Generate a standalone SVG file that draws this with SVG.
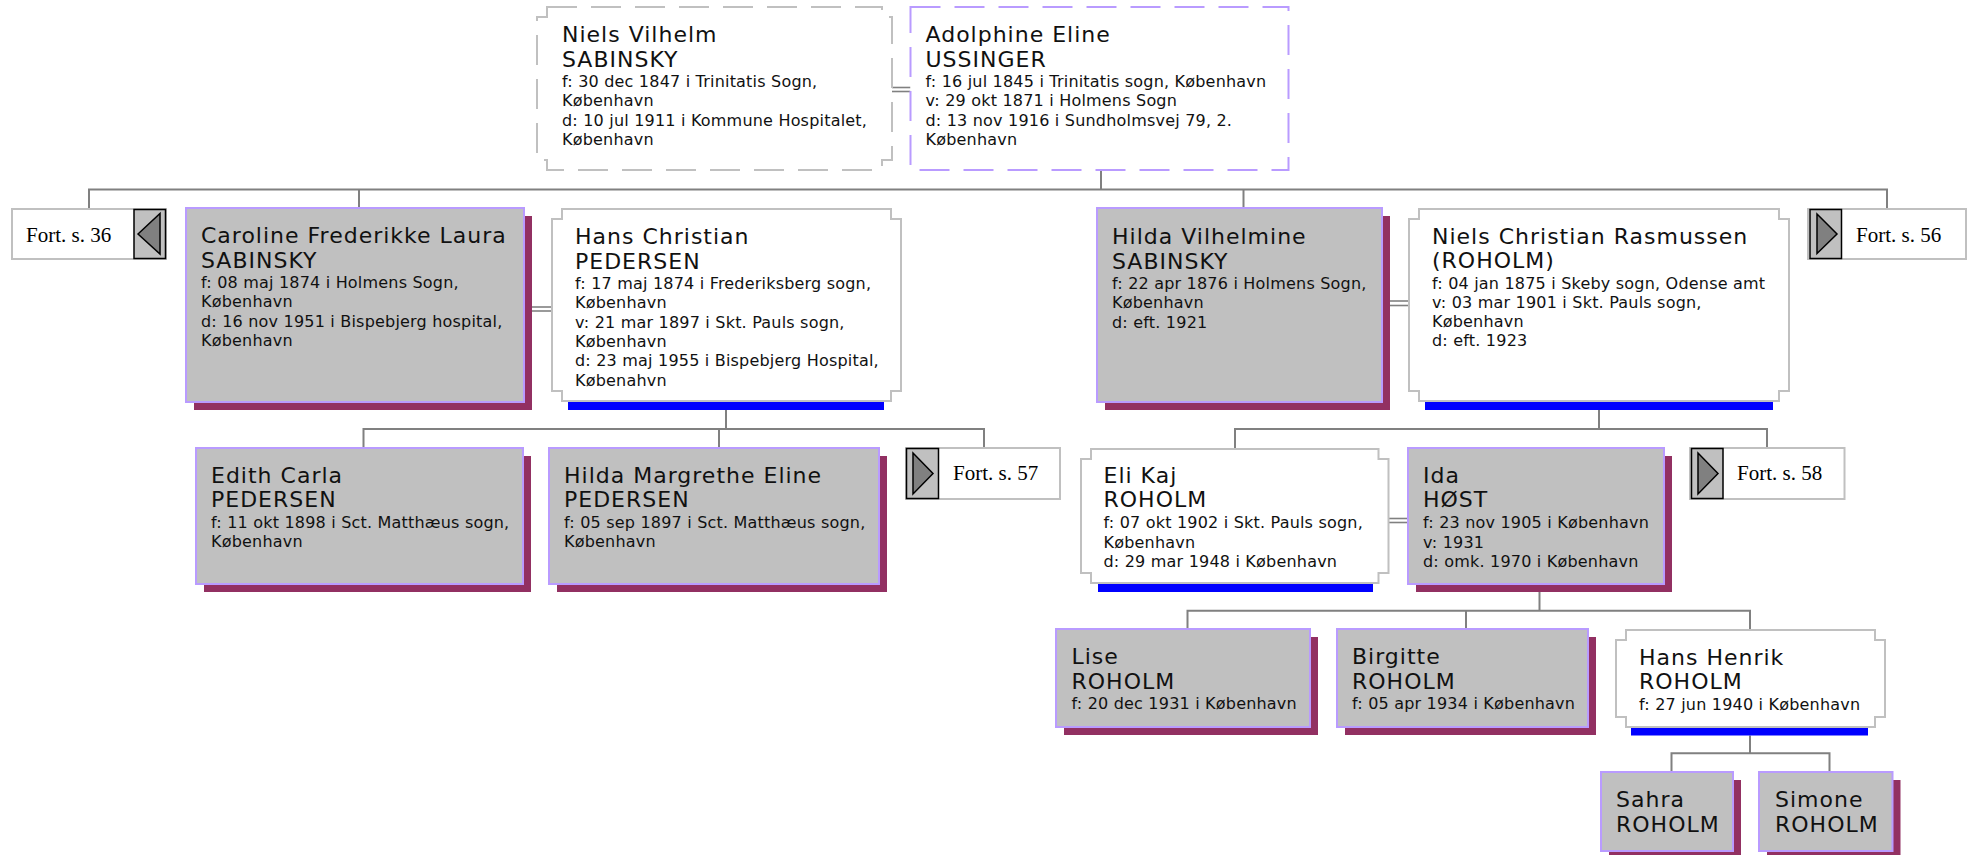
<svg xmlns="http://www.w3.org/2000/svg" width="1972" height="855" viewBox="0 0 1972 855">
<style>
.conn{stroke:#808080;stroke-width:2;fill:none}
.dbl{stroke:#808080;stroke-width:1.6;fill:none}
.fem{fill:#c0c0c0;stroke:#b99bff;stroke-width:2}
.shadow{fill:#923062}
.male{fill:#ffffff;stroke:#c0c0c0;stroke-width:2}
.bar{fill:#0000ff}
.dashm{fill:#ffffff;stroke:#c0c0c0;stroke-width:2;stroke-dasharray:30 14}
.dashf{fill:#ffffff;stroke:#b99bff;stroke-width:2;stroke-dasharray:30 14}
.nm{font-family:"DejaVu Sans","Verdana",sans-serif;font-size:22px;letter-spacing:1px;fill:#111}
.dt{font-family:"DejaVu Sans","Verdana",sans-serif;font-size:16px;letter-spacing:0.2px;fill:#111}
.fort{fill:#ffffff;stroke:#c0c0c0;stroke-width:2}
.sq{fill:#c0c0c0;stroke:#000;stroke-width:1.5}
.tri{fill:#808080;stroke:#000;stroke-width:1.5;stroke-linejoin:miter}
.ft{font-family:"Liberation Serif","Times New Roman",serif;font-size:21px;fill:#000}
</style>

<g id="connectors">
  <!-- top couple -->
  <line class="dbl" x1="892" y1="87.5" x2="910.5" y2="87.5"/>
  <line class="dbl" x1="892" y1="91.5" x2="910.5" y2="91.5"/>
  <polyline class="conn" points="1101,170 1101,189.5"/>
  <polyline class="conn" points="89,209 89,189.5 1887,189.5 1887,209"/>
  <line class="conn" x1="359" y1="189.5" x2="359" y2="208"/>
  <line class="conn" x1="1243.5" y1="189.5" x2="1243.5" y2="208"/>
  <!-- Caroline & Hans -->
  <line class="dbl" x1="532" y1="307" x2="552" y2="307"/>
  <line class="dbl" x1="532" y1="311" x2="552" y2="311"/>
  <polyline class="conn" points="726,410 726,429"/>
  <polyline class="conn" points="363.5,448 363.5,429 984,429 984,448"/>
  <line class="conn" x1="719" y1="429" x2="719" y2="448"/>
  <!-- Hilda & Niels C -->
  <line class="dbl" x1="1390" y1="301" x2="1409" y2="301"/>
  <line class="dbl" x1="1390" y1="305.5" x2="1409" y2="305.5"/>
  <polyline class="conn" points="1599,410 1599,429"/>
  <polyline class="conn" points="1235,449 1235,429 1767,429 1767,448"/>
  <!-- Eli Kaj & Ida -->
  <line class="dbl" x1="1388.5" y1="518.5" x2="1408" y2="518.5"/>
  <line class="dbl" x1="1388.5" y1="522.5" x2="1408" y2="522.5"/>
  <polyline class="conn" points="1539.5,592 1539.5,610.7"/>
  <polyline class="conn" points="1187.5,629 1187.5,610.7 1750,610.7 1750,630"/>
  <line class="conn" x1="1466" y1="610.7" x2="1466" y2="629"/>
  <!-- Hans Henrik -->
  <polyline class="conn" points="1750,735.5 1750,753.3"/>
  <polyline class="conn" points="1671.5,772 1671.5,753.3 1829.5,753.3 1829.5,772"/>
</g>

<g id="n-niels-vilhelm">
  <path class="dashm" d="M547 7 H882 V17 H892 V160 H882 V170 H547 V160 H537 V17 H547 Z"/>
  <text class="nm" x="562" y="42">Niels Vilhelm</text>
  <text class="nm" x="562" y="66.5">SABINSKY</text>
  <text class="dt" x="562" y="87">f: 30 dec 1847 i Trinitatis Sogn,</text>
  <text class="dt" x="562" y="106.3">København</text>
  <text class="dt" x="562" y="125.6">d: 10 jul 1911 i Kommune Hospitalet,</text>
  <text class="dt" x="562" y="144.9">København</text>
</g>

<g id="n-adolphine">
  <rect class="dashf" x="910.5" y="7" width="378" height="163"/>
  <text class="nm" x="925.5" y="42">Adolphine Eline</text>
  <text class="nm" x="925.5" y="66.5">USSINGER</text>
  <text class="dt" x="925.5" y="87">f: 16 jul 1845 i Trinitatis sogn, København</text>
  <text class="dt" x="925.5" y="106.3">v: 29 okt 1871 i Holmens Sogn</text>
  <text class="dt" x="925.5" y="125.6">d: 13 nov 1916 i Sundholmsvej 79, 2.</text>
  <text class="dt" x="925.5" y="144.9">København</text>
</g>

<g id="n-fort36">
  <rect class="fort" x="12" y="209" width="154" height="50"/>
  <rect class="sq" x="134" y="209.5" width="31.5" height="49"/>
  <polygon class="tri" points="138,234 160,213.5 160,254"/>
  <text class="ft" x="26" y="241.7">Fort. s. 36</text>
</g>

<g id="n-caroline">
  <rect class="shadow" x="194" y="216" width="338" height="194"/>
  <rect class="fem" x="186" y="208" width="338" height="194"/>
  <text class="nm" x="201" y="243">Caroline Frederikke Laura</text>
  <text class="nm" x="201" y="267.5">SABINSKY</text>
  <text class="dt" x="201" y="288">f: 08 maj 1874 i Holmens Sogn,</text>
  <text class="dt" x="201" y="307.3">København</text>
  <text class="dt" x="201" y="326.6">d: 16 nov 1951 i Bispebjerg hospital,</text>
  <text class="dt" x="201" y="345.9">København</text>
</g>

<g id="n-hans-christian">
  <rect class="bar" x="568" y="401" width="316" height="9"/>
  <path class="male" d="M562 209 H891 V219 H901 V391 H891 V401 H562 V391 H552 V219 H562 Z"/>
  <text class="nm" x="575" y="244">Hans Christian</text>
  <text class="nm" x="575" y="268.5">PEDERSEN</text>
  <text class="dt" x="575" y="289">f: 17 maj 1874 i Frederiksberg sogn,</text>
  <text class="dt" x="575" y="308.3">København</text>
  <text class="dt" x="575" y="327.6">v: 21 mar 1897 i Skt. Pauls sogn,</text>
  <text class="dt" x="575" y="346.9">København</text>
  <text class="dt" x="575" y="366.2">d: 23 maj 1955 i Bispebjerg Hospital,</text>
  <text class="dt" x="575" y="385.5">Købenahvn</text>
</g>

<g id="n-hilda-vilhelmine">
  <rect class="shadow" x="1105" y="216" width="285" height="194"/>
  <rect class="fem" x="1097" y="208" width="285" height="194"/>
  <text class="nm" x="1112" y="244">Hilda Vilhelmine</text>
  <text class="nm" x="1112" y="268.5">SABINSKY</text>
  <text class="dt" x="1112" y="289">f: 22 apr 1876 i Holmens Sogn,</text>
  <text class="dt" x="1112" y="308.3">København</text>
  <text class="dt" x="1112" y="327.6">d: eft. 1921</text>
</g>

<g id="n-niels-christian">
  <rect class="bar" x="1425" y="401" width="348" height="9"/>
  <path class="male" d="M1419 209 H1779 V219 H1789 V391 H1779 V401 H1419 V391 H1409 V219 H1419 Z"/>
  <text class="nm" x="1432" y="243.5">Niels Christian Rasmussen</text>
  <text class="nm" x="1432" y="268">(ROHOLM)</text>
  <text class="dt" x="1432" y="289">f: 04 jan 1875 i Skeby sogn, Odense amt</text>
  <text class="dt" x="1432" y="308">v: 03 mar 1901 i Skt. Pauls sogn,</text>
  <text class="dt" x="1432" y="327">København</text>
  <text class="dt" x="1432" y="346.3">d: eft. 1923</text>
</g>

<g id="n-fort56">
  <rect class="fort" x="1808" y="209" width="158" height="50"/>
  <rect class="sq" x="1810" y="209.5" width="31.5" height="49"/>
  <polygon class="tri" points="1817,214 1837,234 1817,253.5"/>
  <text class="ft" x="1856" y="241.7">Fort. s. 56</text>
</g>

<g id="n-edith">
  <rect class="shadow" x="204" y="456" width="327" height="136"/>
  <rect class="fem" x="196" y="448" width="327" height="136"/>
  <text class="nm" x="211" y="482.5">Edith Carla</text>
  <text class="nm" x="211" y="507">PEDERSEN</text>
  <text class="dt" x="211" y="528">f: 11 okt 1898 i Sct. Matthæus sogn,</text>
  <text class="dt" x="211" y="547.3">København</text>
</g>

<g id="n-hilda-margrethe">
  <rect class="shadow" x="557" y="456" width="330" height="136"/>
  <rect class="fem" x="549" y="448" width="330" height="136"/>
  <text class="nm" x="564" y="482.5">Hilda Margrethe Eline</text>
  <text class="nm" x="564" y="507">PEDERSEN</text>
  <text class="dt" x="564" y="528">f: 05 sep 1897 i Sct. Matthæus sogn,</text>
  <text class="dt" x="564" y="547.3">København</text>
</g>

<g id="n-fort57">
  <rect class="fort" x="906" y="448" width="154" height="51"/>
  <rect class="sq" x="906.5" y="448.5" width="32" height="50"/>
  <polygon class="tri" points="913,453 933,473.5 913,494"/>
  <text class="ft" x="953" y="480.4">Fort. s. 57</text>
</g>

<g id="n-eli-kaj">
  <rect class="bar" x="1098" y="583" width="275" height="9"/>
  <path class="male" d="M1091 449 H1378.5 V459 H1388.5 V573 H1378.5 V583 H1091 V573 H1081 V459 H1091 Z"/>
  <text class="nm" x="1103.5" y="482.5">Eli Kaj</text>
  <text class="nm" x="1103.5" y="507">ROHOLM</text>
  <text class="dt" x="1103.5" y="528.3">f: 07 okt 1902 i Skt. Pauls sogn,</text>
  <text class="dt" x="1103.5" y="547.6">København</text>
  <text class="dt" x="1103.5" y="566.9">d: 29 mar 1948 i København</text>
</g>

<g id="n-ida">
  <rect class="shadow" x="1416" y="456" width="256" height="136"/>
  <rect class="fem" x="1408" y="448" width="256" height="136"/>
  <text class="nm" x="1423" y="482.5">Ida</text>
  <text class="nm" x="1423" y="507">HØST</text>
  <text class="dt" x="1423" y="528.3">f: 23 nov 1905 i København</text>
  <text class="dt" x="1423" y="547.6">v: 1931</text>
  <text class="dt" x="1423" y="566.9">d: omk. 1970 i København</text>
</g>

<g id="n-fort58">
  <rect class="fort" x="1690" y="448" width="154.5" height="51"/>
  <rect class="sq" x="1691.5" y="448.5" width="31.5" height="50"/>
  <polygon class="tri" points="1698,453 1718,473.5 1698,494"/>
  <text class="ft" x="1737" y="480.4">Fort. s. 58</text>
</g>

<g id="n-lise">
  <rect class="shadow" x="1064" y="637" width="254" height="98"/>
  <rect class="fem" x="1056" y="629" width="254" height="98"/>
  <text class="nm" x="1071.5" y="664">Lise</text>
  <text class="nm" x="1071.5" y="688.5">ROHOLM</text>
  <text class="dt" x="1071.5" y="709">f: 20 dec 1931 i København</text>
</g>

<g id="n-birgitte">
  <rect class="shadow" x="1345" y="637" width="251" height="98"/>
  <rect class="fem" x="1337" y="629" width="251" height="98"/>
  <text class="nm" x="1352" y="664">Birgitte</text>
  <text class="nm" x="1352" y="688.5">ROHOLM</text>
  <text class="dt" x="1352" y="709">f: 05 apr 1934 i København</text>
</g>

<g id="n-hans-henrik">
  <rect class="bar" x="1631" y="727" width="237" height="8.5"/>
  <path class="male" d="M1626 630 H1875 V640 H1885 V717 H1875 V727 H1626 V717 H1616 V640 H1626 Z"/>
  <text class="nm" x="1639" y="664.5">Hans Henrik</text>
  <text class="nm" x="1639" y="689">ROHOLM</text>
  <text class="dt" x="1639" y="709.5">f: 27 jun 1940 i København</text>
</g>

<g id="n-sahra">
  <rect class="shadow" x="1609" y="780" width="132" height="79"/>
  <rect class="fem" x="1601" y="772" width="132" height="79"/>
  <text class="nm" x="1616" y="807">Sahra</text>
  <text class="nm" x="1616" y="831.5">ROHOLM</text>
</g>

<g id="n-simone">
  <rect class="shadow" x="1767" y="780" width="133.5" height="79"/>
  <rect class="fem" x="1759" y="772" width="133.5" height="79"/>
  <text class="nm" x="1775" y="807">Simone</text>
  <text class="nm" x="1775" y="831.5">ROHOLM</text>
</g>
</svg>
